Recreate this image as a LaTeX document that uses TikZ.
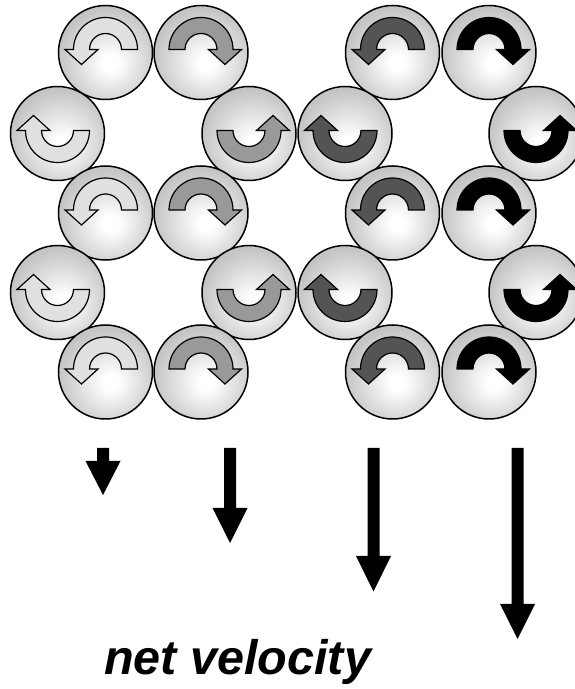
\documentclass[tikz,border=0pt]{standalone}
\usepackage{fontspec}
\setmainfont{Liberation Sans}
\usetikzlibrary{calc}

\definecolor{rimgray}{gray}{0.60}
\definecolor{midgray}{gray}{0.78}
\definecolor{spinA}{gray}{0.88}
\definecolor{spinB}{gray}{0.60}
\definecolor{spinC}{gray}{0.33}
\definecolor{spinD}{gray}{0.00}

% sphere-like shading, highlight a little below and right of centre
\pgfdeclareradialshading{sphere}{\pgfpoint{3bp}{-6bp}}{%
  color(0bp)=(white); color(4bp)=(white); color(26bp)=(midgray);
  color(52bp)=(rimgray); color(70bp)=(rimgray)}

\tikzset{
  ball/.style={circle, draw=black, line width=1.5pt, minimum size=94pt,
               inner sep=0pt, shading=sphere},
  bandarrow/.style={draw=black, line width=1.2pt, line join=miter},
  velarrow/.style={fill=black},
  caption/.style={font=\bfseries\itshape\fontsize{48.5}{52}\selectfont,
                  anchor=base west, inner sep=0pt}
}

% half-ring arrow inside a ball: #1 ball, #2 xscale, #3 yscale, #4 fill
\newcommand\spinarrow[4]{%
  \begin{scope}[shift={($(#1)+(0,3)$)}, xscale=#2, yscale=#3]
    \filldraw[bandarrow, fill=#4]
      (16,0) -- (32,0) arc[start angle=0, end angle=180, radius=32]
      -- (-40.5,0) -- (-24,-15) -- (-7.5,0) -- (-16,0)
      arc[start angle=180, end angle=0, radius=16] -- cycle;
  \end{scope}}

% downward block arrow from its top point #1: #2 shaft length, #3 head length
\newcommand\velarrow[3]{%
  \fill[velarrow] ($(#1)+(-6,0)$) -- ($(#1)+(6,0)$) -- ($(#1)+(6,-#2)$)
    -- ($(#1)+(17.5,-#2)$) -- ($(#1)+(0,-#2-#3)$)
    -- ($(#1)+(-17.5,-#2)$) -- ($(#1)+(-6,-#2)$) -- cycle;}

\begin{document}
\begin{tikzpicture}[x=1pt, y=1pt]
  \useasboundingbox (0,0) rectangle (575,689);

  % row 1
  \node[ball] (r1a) at (105.5,636.5) {};
  \node[ball] (r1b) at (201,636.5) {};
  \node[ball] (r1c) at (392.5,636.5) {};
  \node[ball] (r1d) at (489,636.5) {};
  % row 2
  \node[ball] (r2a) at (57.5,555.5) {};
  \node[ball] (r2b) at (249,555.5) {};
  \node[ball] (r2c) at (345,555.5) {};
  \node[ball] (r2d) at (536,555.5) {};
  % row 3
  \node[ball] (r3a) at (105.5,476) {};
  \node[ball] (r3b) at (201,476) {};
  \node[ball] (r3c) at (392.5,476) {};
  \node[ball] (r3d) at (489,476) {};
  % row 4
  \node[ball] (r4a) at (57.5,396.5) {};
  \node[ball] (r4b) at (249,396.5) {};
  \node[ball] (r4c) at (345,396.5) {};
  \node[ball] (r4d) at (536,396.5) {};
  % row 5
  \node[ball] (r5a) at (105.5,317) {};
  \node[ball] (r5b) at (201,317) {};
  \node[ball] (r5c) at (392.5,317) {};
  \node[ball] (r5d) at (489,317) {};

  % spin arrows over the top (rows 1, 3, 5)
  \foreach \r in {1,3,5}{
    \spinarrow{r\r a}{1}{1}{spinA}
    \spinarrow{r\r b}{-1}{1}{spinB}
    \spinarrow{r\r c}{1}{1}{spinC}
    \spinarrow{r\r d}{-1}{1}{spinD}
  }
  % spin arrows along the bottom (rows 2, 4)
  \foreach \r in {2,4}{
    \spinarrow{r\r a}{1}{-1}{spinA}
    \spinarrow{r\r b}{-1}{-1}{spinB}
    \spinarrow{r\r c}{1}{-1}{spinC}
    \spinarrow{r\r d}{-1}{-1}{spinD}
  }

  % net velocity arrows
  \coordinate (v1) at (103,241);
  \coordinate (v2) at (230,241);
  \coordinate (v3) at (373.5,241);
  \coordinate (v4) at (517.5,241);
  \velarrow{v1}{13}{34}
  \velarrow{v2}{60}{35}
  \velarrow{v3}{108}{35.5}
  \velarrow{v4}{156}{35}

  \node[caption] (lbl) at (104,14) {net velocity};
\end{tikzpicture}
\end{document}
